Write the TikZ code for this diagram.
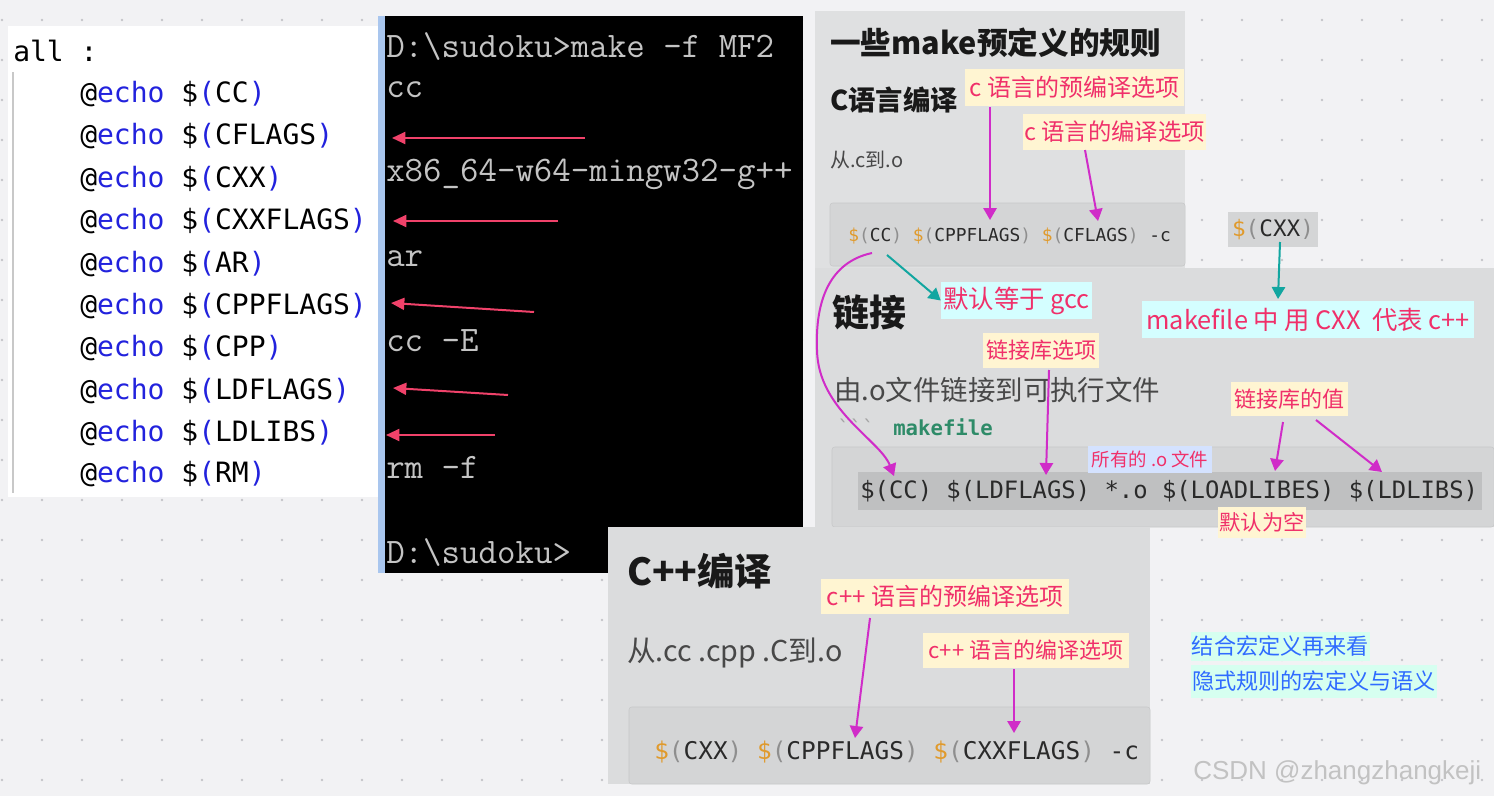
\documentclass[tikz,border=0pt]{standalone}
\usepackage{fontspec}
\newfontfamily\cjk{Noto Sans CJK SC}
\newfontfamily\dvm{DejaVu Sans Mono}
\newfontfamily\lsans{Liberation Sans}
\usetikzlibrary{arrows.meta}
\definecolor{bg}{HTML}{F2F2F4}
\definecolor{dotc}{HTML}{C4C4C8}
\definecolor{panelA}{HTML}{DFE0E1}
\definecolor{panelB}{HTML}{DBDCDD}
\definecolor{codebg}{HTML}{D4D5D6}
\definecolor{codebd}{HTML}{C6C7C8}
\definecolor{codehl}{HTML}{BFC0C1}
\definecolor{pinkred}{HTML}{F0306A}
\definecolor{mag}{HTML}{D02CC8}
\definecolor{teal2}{HTML}{12A6A0}
\definecolor{termred}{HTML}{F0426A}
\definecolor{yel}{HTML}{FFF5D2}
\definecolor{cyanbg}{HTML}{D4FEFF}
\definecolor{lav}{HTML}{D4E2FF}
\definecolor{mint}{HTML}{D6FFF0}
\definecolor{bluetxt}{HTML}{2F6BFF}
\definecolor{echoblue}{HTML}{2222DD}
\definecolor{dollar}{HTML}{E09A2C}
\definecolor{paren}{HTML}{8E8E8E}
\definecolor{termtxt}{HTML}{C4C4C4}
\definecolor{greytxt}{HTML}{484848}
\definecolor{mkgreen}{HTML}{2E8B68}
\definecolor{tstripe}{HTML}{A9C6EE}
\definecolor{wmgray}{HTML}{C2C2C2}
\definecolor{vline}{HTML}{C8C8C8}
\definecolor{darkcode}{HTML}{2A2A2A}
\newcommand\cjkf[1]{\cjk\fontsize{#1}{#1}\selectfont}
\newcommand\monof[1]{\dvm\fontsize{#1}{#1}\selectfont}
\newcommand\echoline[1]{@\textcolor{echoblue}{echo} \$\textcolor{echoblue}{(}#1\textcolor{echoblue}{)}}
\newcommand\mvar[1]{\textcolor{dollar}{\$}\textcolor{paren}{(}#1\textcolor{paren}{)}}
\begin{document}
\begin{tikzpicture}[x=0.75pt,y=-0.75pt,
  txt/.style={inner sep=0pt, anchor=base west},
  note/.style={inner sep=0pt, text=pinkred},
  magarrow/.style={draw=mag, line width=1.5pt, -{Triangle[length=9pt,width=10pt]}},
  tealarrow/.style={draw=teal2, line width=1.5pt, -{Triangle[length=9pt,width=10pt]}},
  redarrow/.style={draw=termred, line width=1.5pt, -{Triangle[length=10pt,width=9pt]}},
  echo/.style={txt, font=\monof{21}},
  term/.style={txt, font=\ttfamily\fontsize{26.9}{28}\selectfont, text=termtxt},
]
\useasboundingbox (0,0) rectangle (1494,796);
\fill[bg] (0,0) rectangle (1494,796);
\foreach \i in {0,...,37} \foreach \j in {0,...,19} \fill[dotc] (2+40*\i,20+40*\j) circle (1pt);

% ---------- left panel ----------
\fill[white] (8,26) rectangle (378,497);
\draw[vline, line width=1.5pt] (13,72) -- (13,493);
\node[echo] (allrule) at (13,61) {all :};
\node[echo] (e1) at (80,102) {\echoline{CC}};
\node[echo] (e2) at (80,144) {\echoline{CFLAGS}};
\node[echo] (e3) at (80,187) {\echoline{CXX}};
\node[echo] (e4) at (80,229) {\echoline{CXXFLAGS}};
\node[echo] (e5) at (80,272) {\echoline{AR}};
\node[echo] (e6) at (80,314) {\echoline{CPPFLAGS}};
\node[echo] (e7) at (80,356) {\echoline{CPP}};
\node[echo] (e8) at (80,399) {\echoline{LDFLAGS}};
\node[echo] (e9) at (80,441) {\echoline{LDLIBS}};
\node[echo] (e10) at (80,482) {\echoline{RM}};

% ---------- terminal ----------
\fill[black] (383,16) rectangle (803,573);
\fill[tstripe] (378,16) rectangle (385,573);
\node[term] (t1) at (386,57) {D:\textbackslash sudoku>make -f MF2};
\node[term] (t2) at (386,97) {cc};
\node[term] (t3) at (386,181) {x86\_64-w64-mingw32-g++};
\node[term] (t4) at (386,266) {ar};
\node[term] (t5) at (386,351) {cc -E};
\node[term] (t6) at (386,478) {rm -f};
\node[term] (t7) at (386,563) {D:\textbackslash sudoku>};
\coordinate (r1a) at (585,138); \coordinate (r1b) at (392,138);
\coordinate (r2a) at (558,221); \coordinate (r2b) at (393,221);
\coordinate (r3a) at (534,312); \coordinate (r3b) at (391,303);
\coordinate (r4a) at (508,395); \coordinate (r4b) at (393,388);
\coordinate (r5a) at (495,435); \coordinate (r5b) at (386,435);
\draw[redarrow] (r1a) -- (r1b);
\draw[redarrow] (r2a) -- (r2b);
\draw[redarrow] (r3a) -- (r3b);
\draw[redarrow] (r4a) -- (r4b);
\draw[redarrow] (r5a) -- (r5b);

% ---------- top panel ----------
\fill[panelA] (815,11) rectangle (1185,268);
\node[txt, font={\cjkf{23}\bfseries}, text=black!90] (title) at (830,54.7) {一些make预定义的规则};
\node[txt, font={\cjkf{20.5}\bfseries}, text=black!90] (csec) at (830,110.4) {C语言编译};
\node[txt, font=\cjkf{15}, text=greytxt] (cfrom) at (830,167.6) {从.c到.o};
\draw[codebd, fill=codebg, rounded corners=2pt] (830,203) rectangle (1185,266);
\node[txt, font=\monof{13.4}, text=darkcode] (ccode) at (848,241.5) {\mvar{CC} \mvar{CPPFLAGS} \mvar{CFLAGS} -c};

% ---------- middle panel ----------
\fill[panelB] (815,268) rectangle (1494,527);
\node[txt, font={\cjkf{27.7}\bfseries}, text=black!90] (link) at (832,326) {链接};
\node[txt, font=\cjkf{20.6}, text=greytxt] (lfrom) at (834,400.4) {由.o文件链接到可执行文件};
\node[txt, font=\monof{15.5}] (mkf) at (837,435) {\textcolor{paren!80}{```}\hspace{14pt}\textcolor{mkgreen}{\bfseries makefile}};
\draw[codebd, fill=codebg, rounded corners=2pt] (832,447) rectangle (1494,527);
\fill[codehl] (858,472) rectangle (1482,510);
\node[txt, font=\monof{17.9}, text=darkcode] (lcode) at (860,498.6) {\$(CC) \$(LDFLAGS) *.o \$(LOADLIBES) \$(LDLIBS)};

% ---------- C++ panel ----------
\fill[panelB] (608,527) rectangle (1150,784);
\node[txt, font={\cjkf{28}\bfseries}, text=black!90] (cxxsec) at (627,585) {C++编译};
\node[txt, font=\cjkf{21.5}, text=greytxt] (cxxfrom) at (627,661) {从.cc .cpp .C到.o};
\draw[codebd, fill=codebg, rounded corners=2pt] (629,707) rectangle (1150,784);
\node[txt, font=\monof{18.3}, text=darkcode] (cxxcode) at (654,759) {\mvar{CXX} \mvar{CPPFLAGS} \mvar{CXXFLAGS} -c};

% ---------- notes ----------
\node[note, fill=yel, minimum width=164.25pt, minimum height=27.75pt, font=\cjkf{18}] (cpre) at (1074.5,87.5) {c 语言的预编译选项};
\node[note, fill=yel, minimum width=137.25pt, minimum height=27pt, font=\cjkf{17.5}] (ccomp) at (1114.5,132) {c 语言的编译选项};
\node[inner sep=0pt, fill=codebg, minimum width=67.5pt, minimum height=26.25pt, font=\monof{17}, text=darkcode] (cxxhl) at (1273,229.5) {\mvar{CXX}};
\node[note, fill=cyanbg, minimum width=113.25pt, minimum height=27.75pt, font=\cjkf{19}] (gcc) at (1016.5,300.5) {默认等于 gcc};
\node[note, fill=cyanbg, minimum width=249pt, minimum height=27.75pt, font=\cjkf{19}] (mkcxx) at (1308,319.5) {makefile 中 用 CXX \ 代表 c++};
\node[note, fill=yel, minimum width=87pt, minimum height=26.25pt, font=\cjkf{16.5}] (ldopt) at (1041,350.5) {链接库选项};
\node[note, fill=yel, minimum width=87.75pt, minimum height=25.5pt, font=\cjkf{16.5}] (libval) at (1289.5,399) {链接库的值};
\node[note, fill=lav, minimum width=93pt, minimum height=20.25pt, font=\cjkf{13.8}] (allo) at (1150,459.5) {所有的 .o 文件};
\node[note, fill=yel, minimum width=66pt, minimum height=23.25pt, font=\cjkf{16}] (empty) at (1262,522.5) {默认为空};
\node[note, fill=yel, minimum width=186pt, minimum height=26.25pt, font=\cjkf{18}] (cxxpre) at (945,596.5) {c++ 语言的预编译选项};
\node[note, fill=yel, minimum width=154.5pt, minimum height=26.25pt, font=\cjkf{16.5}] (cxxcomp) at (1026,650.5) {c++ 语言的编译选项};
\node[inner sep=0pt, fill=mint, text=bluetxt, font=\cjkf{16.6}, minimum width=134.25pt, minimum height=21.75pt] (blue1) at (1280.5,646.5) {结合宏定义再来看};
\node[inner sep=0pt, fill=mint, text=bluetxt, font=\cjkf{16.6}, minimum width=184.5pt, minimum height=24.75pt] (blue2) at (1314,681.5) {隐式规则的宏定义与语义};
\node[txt, font=\lsans\fontsize{19.5}{20}\selectfont, text=wmgray] (wm) at (1193,779) {CSDN @zhangzhangkeji};

% ---------- connectors ----------
\coordinate (m1a) at (990,107);  \coordinate (m1b) at (990,220);
\coordinate (m2a) at (1085,150); \coordinate (m2b) at (1098,221);
\coordinate (m3a) at (1049,370); \coordinate (m3b) at (1046,475);
\coordinate (m4a) at (1283,422); \coordinate (m4b) at (1275,471);
\coordinate (m5a) at (1316,420); \coordinate (m5b) at (1382,472);
\coordinate (m6a) at (870,618);  \coordinate (m6b) at (855,738);
\coordinate (m7a) at (1014,669); \coordinate (m7b) at (1014,733);
\draw[magarrow] (m1a) -- (m1b);
\draw[magarrow] (m2a) -- (m2b);
\draw[magarrow] (m3a) -- (m3b);
\draw[magarrow] (m4a) -- (m4b);
\draw[magarrow] (m5a) -- (m5b);
\draw[magarrow] (m6a) -- (m6b);
\draw[magarrow] (m7a) -- (m7b);
\coordinate (ccA) at (872,253);
\coordinate (ccB) at (894,476);
\draw[magarrow] (ccA) .. controls (830,262) and (815,300) .. (817,350) .. controls (818,410) and (880,440) .. (ccB);
\coordinate (tA) at (887,255);
\draw[tealarrow] (tA) -- (gcc.west);
\coordinate (tB) at (1280,242); \coordinate (tC) at (1278,299);
\draw[tealarrow] (tB) -- (tC);
\end{tikzpicture}
\end{document}
